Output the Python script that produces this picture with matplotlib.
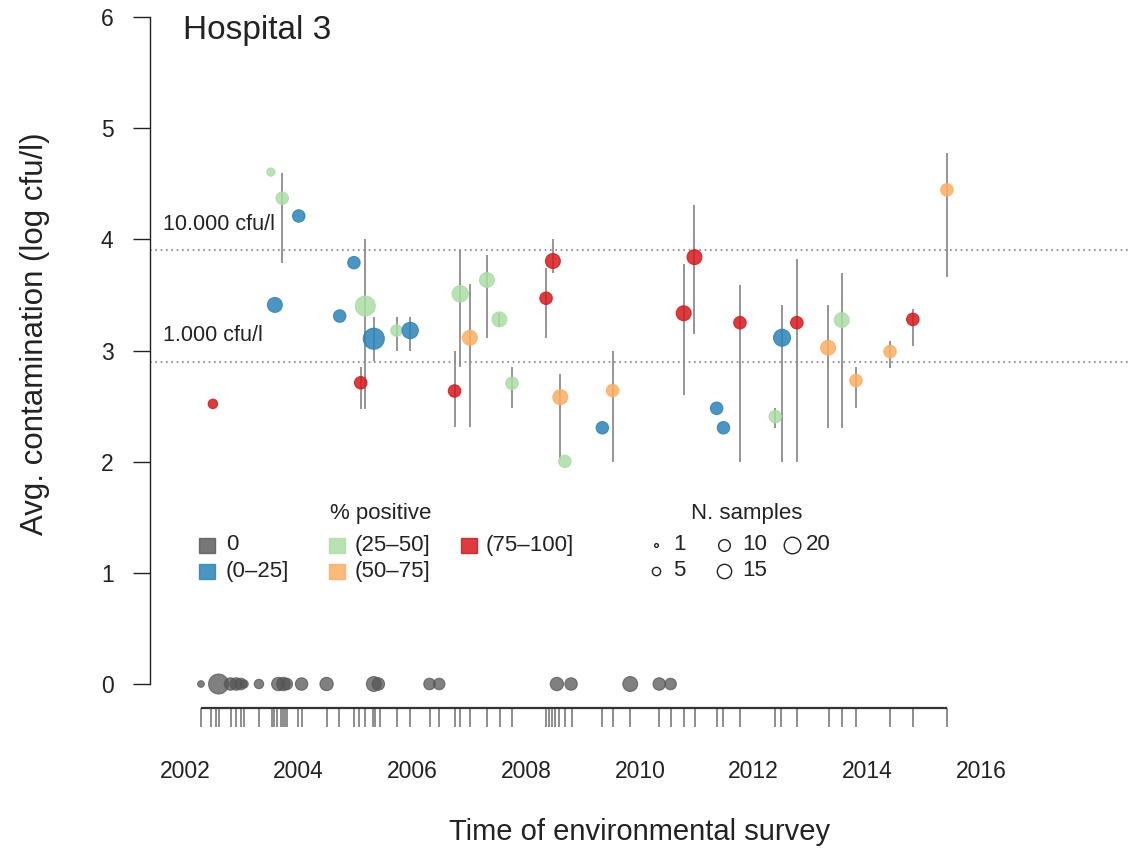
import matplotlib
matplotlib.use("Agg")
import matplotlib.pyplot as plt
from matplotlib.lines import Line2D
from matplotlib.patches import Rectangle
import numpy as np

plt.rcParams['font.family'] = ['Liberation Sans', 'DejaVu Sans']

# surveys with at least one positive sample
dates = [2002.49, 2003.51, 2003.71, 2004.00, 2003.58, 2004.97, 2004.72, 2005.17,
         2005.09, 2005.32, 2005.72, 2005.96, 2006.84, 2006.74, 2007.01, 2007.31,
         2007.53, 2007.75, 2008.35, 2008.47, 2008.60, 2008.68, 2009.34, 2009.52,
         2010.77, 2010.96, 2011.35, 2011.47, 2011.76, 2012.38, 2012.50, 2012.76,
         2013.31, 2013.55, 2013.80, 2014.40, 2014.80, 2015.40]
contam = [2.52, 4.605, 4.37, 4.21, 3.41, 3.79, 3.31, 3.40,
          2.71, 3.106, 3.18, 3.18, 3.51, 2.636, 3.115, 3.634,
          3.28, 2.705, 3.47, 3.805, 2.58, 2.003, 2.305, 2.64,
          3.335, 3.84, 2.48, 2.305, 3.25, 2.405, 3.115, 3.25,
          3.025, 3.274, 2.73, 2.99, 3.28, 4.445]
lo = [np.nan, np.nan, 3.79, np.nan, np.nan, np.nan, np.nan, 2.47,
      2.47, 2.91, 3.00, 3.00, 2.85, 2.31, 2.31, 3.115,
      3.21, 2.48, 3.115, 3.70, 2.015, np.nan, np.nan, 2.0,
      2.60, 3.148, np.nan, np.nan, 2.0, 2.30, 2.0, 2.0,
      2.305, 2.305, 2.48, 2.845, 3.04, 3.66]
hi = [np.nan, np.nan, 4.60, np.nan, np.nan, np.nan, np.nan, 4.00,
      2.85, 3.30, 3.30, 3.30, 3.90, 3.00, 3.60, 3.86,
      3.34, 2.85, 3.745, 4.00, 2.785, np.nan, np.nan, 3.0,
      3.78, 4.305, np.nan, np.nan, 3.585, 2.485, 3.405, 3.82,
      3.405, 3.70, 2.85, 3.085, 3.37, 4.78]
n_samples = [4, 3, 7, 7, 10, 7, 7, 18,
             7, 20, 6, 12, 12, 7, 10, 10,
             10, 7, 7, 10, 10, 7, 7, 7,
             10, 10, 7, 7, 7, 7, 13, 7,
             10, 10, 7, 7, 7, 7]
pos_class = [4, 2, 2, 1, 1, 1, 1, 2,
             4, 1, 2, 1, 2, 4, 3, 2,
             2, 2, 4, 4, 3, 2, 1, 3,
             4, 4, 1, 1, 4, 2, 1, 4,
             3, 2, 3, 3, 4, 3]

# surveys with no positive sample
neg_dates = [2002.28, 2002.59, 2002.80, 2002.90, 2002.98, 2003.04, 2003.30, 2003.64,
             2003.73, 2003.79, 2004.05, 2004.49, 2005.32, 2005.40, 2006.30, 2006.47,
             2008.54, 2008.79, 2009.83, 2010.34, 2010.54]
neg_n = [2, 18, 7, 7, 6, 3, 4, 8,
         8, 6, 7, 8, 10, 7, 6, 6,
         8, 7, 10, 7, 6]

# all survey dates (rug)
survey_dates = [2002.28, 2002.45, 2002.54, 2002.59, 2002.80, 2002.89, 2002.98, 2003.04,
                2003.30, 2003.53, 2003.57, 2003.62, 2003.69, 2003.72, 2003.76, 2003.79,
                2003.99, 2004.05, 2004.49, 2004.71, 2004.97, 2005.06, 2005.17, 2005.31,
                2005.35, 2005.43, 2005.72, 2005.95, 2006.30, 2006.47, 2006.74, 2006.84,
                2007.01, 2007.31, 2007.54, 2007.75, 2008.35, 2008.40, 2008.46, 2008.51,
                2008.58, 2008.68, 2008.81, 2009.34, 2009.52, 2009.83, 2010.34, 2010.54,
                2010.78, 2010.97, 2011.35, 2011.47, 2011.76, 2012.38, 2012.49, 2012.77,
                2013.32, 2013.55, 2013.80, 2014.40, 2014.81, 2015.40]

classes = ['0', '(0\u201325]', '(25\u201350]', '(50\u201375]', '(75\u2013100]']
class_colors = ['#555555', '#2B83BA', '#ABDDA4', '#FDAE61', '#D7191C']
size_legend = [1, 5, 10, 15, 20]
thresholds = [3.9, 2.9]
threshold_labels = ['10.000 cfu/l', '1.000 cfu/l']
year_ticks = [2002, 2004, 2006, 2008, 2010, 2012, 2014, 2016]

W, H = 1139, 849
TXT = '#222222'


def pt_size(n, k=4.7):
    # marker area (pt^2) from number of samples
    d = k * np.sqrt(np.asarray(n, dtype=float)) * 0.72
    return d ** 2


def fx(px):
    return px / W


def fy(py):
    return 1 - py / H


fig = plt.figure(figsize=(W / 100, H / 100), dpi=100)
ax = fig.add_axes([fx(150), fy(740), 980 / W, 723 / H])
ax.set_xlim(2001.384, 2018.62)
ax.set_ylim(-0.5037, 6)

# threshold lines
for t, lab in zip(thresholds, threshold_labels):
    ax.axhline(t, color='#808080', lw=1.2, ls=(0, (1, 2.2)), zorder=1)
    ax.text(2001.61, t + 0.235, lab, fontsize=15.5, color=TXT, va='center', ha='left')

# error bars
dates_a = np.array(dates)
lo_a, hi_a = np.array(lo), np.array(hi)
m = ~np.isnan(lo_a)
ax.vlines(dates_a[m], lo_a[m], hi_a[m], colors='#8c8c8c', lw=1.3, zorder=2)

# positive surveys
cols = [class_colors[c] for c in pos_class]
ax.scatter(dates, contam, s=pt_size(n_samples), c=cols, edgecolors=cols,
           linewidths=0.8, alpha=0.85, zorder=3)

# negative surveys
ax.scatter(neg_dates, np.zeros(len(neg_dates)), s=pt_size(neg_n), c=class_colors[0],
           edgecolors=class_colors[0], linewidths=0.8, alpha=0.75, zorder=3)

# rug axis
rug_top, rug_bot = -0.216, -0.387
ax.vlines(survey_dates, rug_bot, rug_top, colors='#7a7a7a', lw=1.2, clip_on=False)
ax.hlines(rug_top, min(survey_dates), max(survey_dates), colors='#333333', lw=1.6,
          clip_on=False)
for yr in year_ticks:
    ax.text(yr, -0.79, str(yr), ha='center', va='center', fontsize=16.5, color=TXT,
            clip_on=False)

# y axis in R style
for s in ['top', 'right', 'bottom']:
    ax.spines[s].set_visible(False)
ax.spines['left'].set_bounds(0, 6)
ax.spines['left'].set_linewidth(1.0)
ax.spines['left'].set_color(TXT)
ax.set_xticks([])
ax.set_yticks(range(7))
ax.tick_params(axis='y', length=12.2, width=1.0, pad=14, labelsize=16.5,
               color=TXT, labelcolor=TXT)

fig.text(fx(183), fy(30), 'Hospital 3', fontsize=24, color=TXT, ha='left', va='center')
fig.text(fx(35), fy(334), 'Avg. contamination (log cfu/l)', fontsize=22.5, color=TXT,
         rotation=90, ha='center', va='center')
fig.text(fx(640), fy(832), 'Time of environmental survey', fontsize=21, color=TXT,
         ha='center', va='center')

# legend: % positive
fig.text(fx(381), fy(513), '% positive', fontsize=16, color=TXT, ha='center', va='center')
col_sq = [207, 337, 469]
col_tx = [226, 355, 486]
row_y = [545, 571]
for i, (lab, col) in enumerate(zip(classes, class_colors)):
    c, r = divmod(i, 2)
    fig.add_artist(Rectangle((fx(col_sq[c] - 8), fy(row_y[r] + 7.5)), 16 / W, 15 / H,
                             transform=fig.transFigure, facecolor=col, edgecolor=col,
                             alpha=0.85 if i else 0.8))
    fig.text(fx(col_tx[c]), fy(row_y[r]), lab, fontsize=16, color=TXT,
             ha='left', va='center')

# legend: N. samples
fig.text(fx(747), fy(513), 'N. samples', fontsize=16, color=TXT, ha='center', va='center')
col_ci = [656, 724, 792]
col_nt = [673, 742, 806]
for i, n in enumerate(size_legend):
    c, r = divmod(i, 2)
    d = 3.7 * np.sqrt(n) * 0.72
    fig.add_artist(Line2D([fx(col_ci[c])], [fy(row_y[r])], marker='o', ms=d,
                          mfc='none', mec=TXT, mew=1.0, transform=fig.transFigure))
    fig.text(fx(col_nt[c]), fy(row_y[r]), str(n), fontsize=16, color=TXT,
             ha='left', va='center')

fig.savefig('out.png', dpi=100)
